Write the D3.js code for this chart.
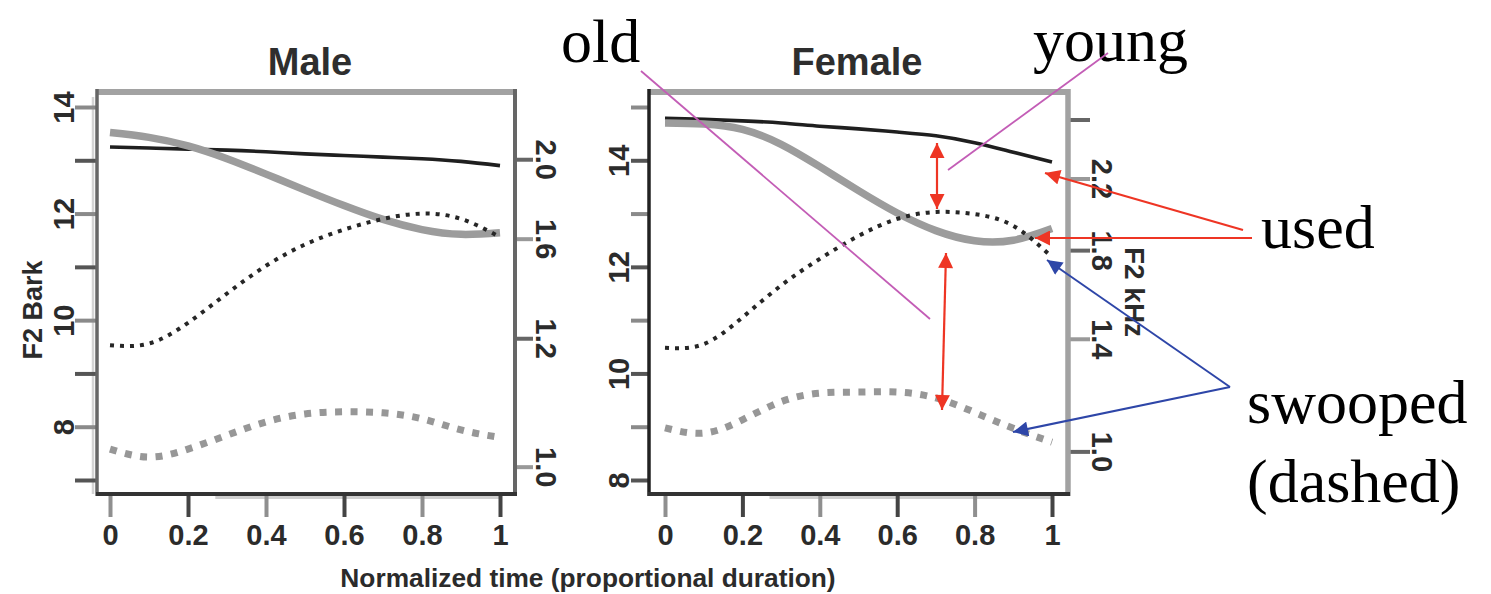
<!DOCTYPE html>
<html><head><meta charset="utf-8">
<script src="https://cdn.jsdelivr.net/npm/d3@7"></script>
<style>
html,body{margin:0;padding:0;background:#fff}
svg{display:block}
</style>
</head><body>
<script>
// ---------- data ----------
const timePoints = [0, 0.1, 0.2, 0.3, 0.4, 0.5, 0.6, 0.7, 0.8, 0.9, 1.0];
// F2 in Bark
const maleYoungUsed    = [13.25, 13.23, 13.21, 13.19, 13.16, 13.12, 13.09, 13.06, 13.03, 12.98, 12.90];
const maleOldUsed      = [13.52, 13.43, 13.27, 13.03, 12.74, 12.44, 12.15, 11.89, 11.70, 11.61, 11.64];
const maleYoungSwooped = [9.53, 9.56, 9.95, 10.50, 11.02, 11.42, 11.70, 11.90, 12.00, 11.90, 11.56];
const maleOldSwooped   = [7.58, 7.43, 7.58, 7.84, 8.09, 8.24, 8.28, 8.26, 8.15, 7.94, 7.80];
const femaleYoungUsed    = [14.79, 14.77, 14.74, 14.70, 14.64, 14.59, 14.53, 14.46, 14.33, 14.15, 13.97];
const femaleOldUsed      = [14.70, 14.68, 14.58, 14.30, 13.88, 13.43, 13.01, 12.68, 12.49, 12.50, 12.72];
const femaleYoungSwooped = [10.48, 10.55, 11.05, 11.65, 12.15, 12.58, 12.90, 13.03, 12.99, 12.77, 12.18];
const femaleOldSwooped   = [8.98, 8.88, 9.13, 9.47, 9.63, 9.65, 9.65, 9.54, 9.27, 8.97, 8.71];

const xTicks = [0, 0.2, 0.4, 0.6, 0.8, 1];
const xTickLabels = ["0", "0.2", "0.4", "0.6", "0.8", "1"];
const maleBarkTicks = [7, 8, 9, 10, 11, 12, 13, 14];
const femaleBarkTicks = [8, 9, 10, 11, 12, 13, 14, 15];
const barkLabelValues = [8, 10, 12, 14];
const maleKHzTicks = [2.0, 1.6, 1.2, 0.8];
const maleKHzLabels = ["2.0", "1.6", "1.2", "1.0"];
const femaleKHzTicks = [2.6, 2.2, 1.8, 1.4, 1.0];
const femaleKHzLabels = ["", "2.2", "1.8", "1.4", "1.0"];

const panelTitles = ["Male", "Female"];

// ---------- drawing ----------
const W = 1491, H = 594;
const svg = d3.select("body").append("svg").attr("width", W).attr("height", H);
const SANS = "'Liberation Sans', Arial, Helvetica, sans-serif";
const SERIF = "'Liberation Serif', 'Times New Roman', serif";
const RED = "#EE3524", BLUE = "#2E46A8", PURPLE = "#C35DB6";

const defs = svg.append("defs");
function marker(id, color) {
  defs.append("marker").attr("id", id)
    .attr("viewBox", "0 0 10 10").attr("refX", 10).attr("refY", 5)
    .attr("markerWidth", 17).attr("markerHeight", 15)
    .attr("markerUnits", "userSpaceOnUse")
    .attr("orient", "auto-start-reverse")
    .append("path").attr("d", "M0,0L10,5L0,10z").attr("fill", color);
}
marker("arRed", RED);
marker("arBlue", BLUE);

const hzToBark = khz => 26.81 * (khz * 1000) / (1960 + khz * 1000) - 0.53;

const panels = [
  { title: panelTitles[0], box: {l: 97, r: 515, t: 92, b: 494}, xr: [110, 500], yd: [7, 14],
    series: [maleYoungUsed, maleOldUsed, maleYoungSwooped, maleOldSwooped],
    barkTicks: maleBarkTicks, khzTicks: maleKHzTicks, khzLabels: maleKHzLabels,
    leftCol: "#666", topCol: "#a2a2a2", rightCol: "#666", botCol: "#333",
    leftTick: 22, leftLab: 23, rightTick: 18, rightLab: 21, titleX: 310 },
  { title: panelTitles[1], box: {l: 649, r: 1068, t: 92, b: 494}, xr: [665, 1052], yd: [8, 15],
    series: [femaleYoungUsed, femaleOldUsed, femaleYoungSwooped, femaleOldSwooped],
    barkTicks: femaleBarkTicks, khzTicks: femaleKHzTicks, khzLabels: femaleKHzLabels,
    leftCol: "#222", topCol: "#a2a2a2", rightCol: "#a2a2a2", botCol: "#333",
    leftTick: 18, leftLab: 20, rightTick: 22, rightLab: 24, titleX: 857 }
];

const styles = [
  { stroke: "#1f1f1f", width: 3.6, dash: null },
  { stroke: "#9c9c9c", width: 7.5, dash: null },
  { stroke: "#262626", width: 4, dash: "4,6" },
  { stroke: "#979797", width: 7, dash: "7,8.5" }
];

panels.forEach(p => {
  const x = d3.scaleLinear().domain([0, 1]).range(p.xr);
  const y = d3.scaleLinear().domain(p.yd).range([480, 107]);
  const g = svg.append("g");

  // soft axis shadow lines
  g.append("line").attr("x1", x(0.27)).attr("x2", x(1)).attr("y1", p.box.b + 3.5).attr("y2", p.box.b + 3.5)
    .attr("stroke", "#cfcfcf").attr("stroke-width", 3);
  if (p.title === "Male") {
    g.append("line").attr("x1", p.box.l - 4).attr("x2", p.box.l - 4).attr("y1", y(p.yd[1]) - 10).attr("y2", p.box.b)
      .attr("stroke", "#d4d4d4").attr("stroke-width", 2.5);
  }

  // left Bark axis
  const ax = d3.axisLeft(y).tickValues(p.barkTicks).tickSize(p.leftTick)
    .tickFormat(d => barkLabelValues.includes(d) ? String(d) : "");
  const ag = g.append("g").attr("transform", `translate(${p.box.l},0)`).call(ax);
  ag.select(".domain").remove();
  ag.selectAll(".tick line").attr("stroke", (d, i) => i % 2 ? "#8a8a8a" : "#555").attr("stroke-width", 4);
  ag.selectAll(".tick text").attr("x", 0).attr("dy", 0).attr("y", -p.leftLab)
    .attr("transform", "rotate(-90)").attr("text-anchor", "middle")
    .style("font-family", SANS).style("font-size", "29px").style("font-weight", "bold").attr("fill", "#2b2b2b");

  // right kHz axis
  const yk = d => y(hzToBark(d));
  const rg = g.append("g").attr("transform", `translate(${p.box.r},0)`);
  const rt = rg.selectAll("g").data(p.khzTicks).join("g").attr("transform", d => `translate(0,${yk(d)})`);
  rt.append("line").attr("x1", 0).attr("x2", p.rightTick).attr("stroke", (d, i) => i % 2 ? "#999" : "#666").attr("stroke-width", 4);
  rt.append("text").text((d, i) => p.khzLabels[i])
    .attr("transform", "rotate(90)").attr("x", 0).attr("y", -p.rightLab).attr("text-anchor", "middle")
    .style("font-family", SANS).style("font-size", "29px").style("font-weight", "bold").attr("fill", "#2b2b2b");

  // bottom axis
  const bx = d3.axisBottom(x).tickValues(xTicks).tickSize(23).tickFormat((d, i) => xTickLabels[i]);
  const bg = g.append("g").attr("transform", `translate(0,${p.box.b})`).call(bx);
  bg.select(".domain").remove();
  bg.selectAll(".tick line").attr("stroke", (d, i) => i % 2 ? "#444" : "#8f8f8f").attr("stroke-width", 4);
  bg.selectAll(".tick text").attr("y", 51).attr("dy", 0)
    .style("font-family", SANS).style("font-size", "29px").style("font-weight", "bold").attr("fill", "#2b2b2b");

  // curves
  const line = d3.line().x((d, i) => x(timePoints[i])).y(d => y(d)).curve(d3.curveNatural);
  p.series.forEach((s, k) => {
    const st = styles[k];
    g.append("path").attr("d", line(s)).attr("fill", "none")
      .attr("stroke", st.stroke).attr("stroke-width", st.width)
      .attr("stroke-dasharray", st.dash).attr("stroke-linecap", "butt");
  });

  // box
  const b = p.box;
  g.append("line").attr("x1", b.l - 1).attr("x2", b.r + 2).attr("y1", b.t).attr("y2", b.t).attr("stroke", p.topCol).attr("stroke-width", 6);
  g.append("line").attr("x1", b.l).attr("x2", b.l).attr("y1", b.t - 3).attr("y2", b.b + 2).attr("stroke", p.leftCol).attr("stroke-width", 3.5);
  g.append("line").attr("x1", b.r).attr("x2", b.r).attr("y1", b.t - 3).attr("y2", b.b + 2).attr("stroke", p.rightCol).attr("stroke-width", p.title === "Male" ? 4 : 5.5);
  g.append("line").attr("x1", b.l - 1).attr("x2", b.r + 2).attr("y1", b.b).attr("y2", b.b).attr("stroke", p.botCol).attr("stroke-width", 4);

  // title
  g.append("text").text(p.title).attr("x", p.titleX).attr("y", 75).attr("text-anchor", "middle")
    .style("font-family", SANS).style("font-size", "38px").style("font-weight", "bold").attr("fill", "#2e2e2e");
});

// axis titles
svg.append("text").text("F2 Bark").attr("transform", "translate(42,310) rotate(-90)").attr("text-anchor", "middle")
  .style("font-family", SANS).style("font-size", "27px").style("font-weight", "bold").attr("fill", "#2b2b2b");
svg.append("text").text("F2 kHz").attr("transform", "translate(1125,292) rotate(90)").attr("text-anchor", "middle")
  .style("font-family", SANS).style("font-size", "28px").style("font-weight", "bold").attr("fill", "#2b2b2b");
svg.append("text").text("Normalized time (proportional duration)").attr("x", 588).attr("y", 587).attr("text-anchor", "middle")
  .style("font-family", SANS).style("font-size", "26.3px").style("font-weight", "bold").attr("fill", "#2b2b2b");

// annotations
const ann = svg.append("g");
function lab(t, x, y) {
  ann.append("text").text(t).attr("x", x).attr("y", y)
    .style("font-family", SERIF).style("font-size", "62px").attr("fill", "#000");
}
lab("old", 561, 62);
lab("young", 1033, 61);
lab("used", 1261, 248);
lab("swooped", 1247, 423);
lab("(dashed)", 1247, 502);

function seg(x1, y1, x2, y2, color, w, start, end) {
  const l = ann.append("line").attr("x1", x1).attr("y1", y1).attr("x2", x2).attr("y2", y2)
    .attr("stroke", color).attr("stroke-width", w);
  if (start) l.attr("marker-start", `url(#${start})`);
  if (end) l.attr("marker-end", `url(#${end})`);
}
seg(641, 71, 930, 319, PURPLE, 1.8);
seg(1108, 53, 948, 170, PURPLE, 1.8);
seg(937, 143, 937, 209, RED, 2.2, "arRed", "arRed");
seg(946, 253, 942, 410, RED, 2.2, "arRed", "arRed");
seg(1243, 230, 1045, 173, RED, 2.2, null, "arRed");
seg(1252, 238, 1035, 238, RED, 2.2, null, "arRed");
seg(1230, 387, 1047, 260, BLUE, 2, null, "arBlue");
seg(1230, 387, 1013, 432, BLUE, 2, null, "arBlue");
</script>
</body></html>
